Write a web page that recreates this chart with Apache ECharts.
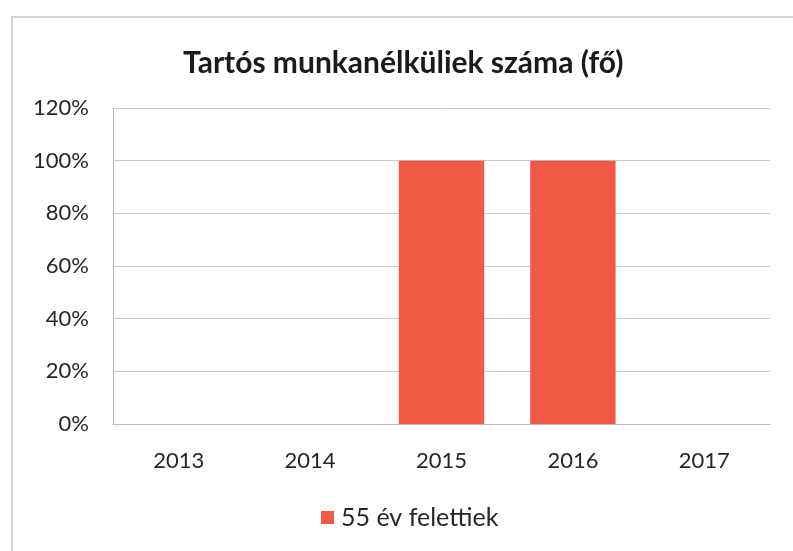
<!DOCTYPE html>
<html><head><meta charset="utf-8">
<script src="https://cdn.jsdelivr.net/npm/echarts@6/dist/echarts.min.js"></script>
<style>html,body{margin:0;padding:0;background:#fff}#c{width:793px;height:551px}</style>
</head><body><div id="c"></div>
<script>
const title = 'Tartós munkanélküliek száma (fő)';
const years = ['2013', '2014', '2015', '2016', '2017'];
const seriesName = '55 év felettiek';
const values = [0, 0, 1, 1, 0];
const yTicks = [0, 0.2, 0.4, 0.6, 0.8, 1.0, 1.2];

const chart = echarts.init(document.getElementById('c'), null, {renderer: 'canvas'});
const font = 'Lato, "Open Sans", sans-serif';
chart.setOption({
  animation: false,
  backgroundColor: '#fff',
  graphic: [{type: 'rect', shape: {x: 12, y: 17, width: 790, height: 560}, style: {fill: 'none', stroke: '#c8c8c8', lineWidth: 1.5}, silent: true}],
  title: {text: title, left: 178, top: 43, textStyle: {fontFamily: font, fontSize: 30, fontWeight: 'bold', color: '#1a1a1a'}},
  legend: {bottom: 16, left: 316, itemWidth: 13, itemHeight: 13, itemGap: 6, icon: 'rect',
    textStyle: {fontFamily: font, fontSize: 25, color: '#262626', padding: [0, 0, 0, 2]}, data: [seriesName]},
  grid: {left: 113, right: 23, top: 108, bottom: 127},
  xAxis: {type: 'category', data: years,
    axisLine: {lineStyle: {color: '#bdbdbd'}}, axisTick: {show: false},
    axisLabel: {fontFamily: font, fontSize: 22, color: '#262626', margin: 26}},
  yAxis: {type: 'value', min: yTicks[0], max: yTicks[yTicks.length - 1], interval: 0.2,
    axisLine: {show: true, lineStyle: {color: '#bdbdbd'}}, axisTick: {show: false},
    splitLine: {lineStyle: {color: '#c9c9c9'}},
    axisLabel: {fontFamily: font, fontSize: 22, color: '#262626', margin: 24,
      formatter: v => Math.round(v * 100) + '%'}},
  series: [{name: seriesName, type: 'bar', data: values, barCategoryGap: '35%',
    itemStyle: {color: '#f05a47'}}]
});
</script></body></html>
